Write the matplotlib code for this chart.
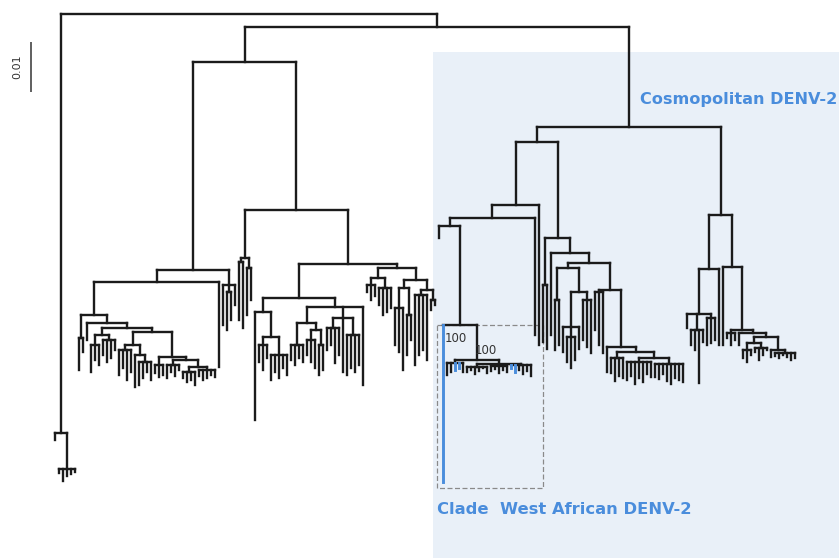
import matplotlib
matplotlib.use("Agg")
import matplotlib.pyplot as plt
from matplotlib.collections import LineCollection
from matplotlib.patches import Rectangle

# ---------------------------------------------------------------------------
# Tree data (Newick, branch lengths in substitutions/site).
# "&NAME" is a placeholder that is replaced by the clade of that name;
# tips named "b" belong to the highlighted West African lineage.
# ---------------------------------------------------------------------------
BACKBONE = "(&OUT:0.0838,&A:0.0026)"
OUT = "(:0.0014,(:0.0008,:0.0024,:0.0014,:0.0010,:0.0006):0.0072)"
A = "(&L:0.0070,&C:0.0200)"

# Asian / American genotypes
L = "(&L1:0.0416,&L2:0.0296)"
L1 = "(&L1A:0.0024,&L1B:0.0030)"
L1A = "(&L1A1:0.0066,:0.0170)"
L1A1 = "((:0.0064,:0.0028):0.0046,(:0.0034,&S:0.0010):0.0016)"
S = "(&S1:0.0014,&S2:0.0008)"
S1 = "((:0.0054,:0.0030,:0.0040):0.0020,(:0.0030,:0.0044,:0.0036,:0.0020):0.0010)"
S2 = "(&S2A:0.0026,&S2B:0.0050)"
S2A = ("((:0.0050,:0.0036,:0.0060,:0.0044):0.0010,"
       "(:0.0064,(:0.0046,:0.0032,:0.0020,:0.0036):0.0014):0.0020)")
S2B = "((:0.0016,:0.0024,:0.0020):0.0016,&S2B2:0.0006)"
S2B2 = ("((:0.0026,:0.0014,:0.0022,:0.0010):0.0010,"
        "((:0.0012,:0.0020,:0.0016,:0.0026):0.0010,"
        "(:0.0012,:0.0020,:0.0016,:0.0010,:0.0014):0.0006):0.0014)")
L1B = "(:0.0080,(:0.0076,:0.0056):0.0014,:0.0040)"
L2 = "(&L2A:0.0096,&L2B:0.0108)"
L2A = "((:0.0116,:0.0132):0.0008,(:0.0094,:0.0064):0.0020)"
L2B = "(&L2B1:0.0068,&L2B2:0.0008)"
L2B1 = "(&L2B1A:0.0028,&L2B1B:0.0018)"
L2B1A = ("(:0.0216,((:0.0034,:0.0050,:0.0026):0.0016,"
         "(:0.0050,:0.0034,:0.0046,:0.0026,:0.0040):0.0036):0.0050)")
L2B1B = "(&V1:0.0032,&V2:0.0022,:0.0156)"
V1 = ("((:0.0030,:0.0040,:0.0026,:0.0034):0.0044,"
      "((:0.0030,:0.0044,:0.0056):0.0020,(:0.0060,:0.0050):0.0030):0.0014)")
V2 = ("((:0.0044,:0.0034,:0.0070,:0.0054):0.0020,:0.0108,"
      "(:0.0080,:0.0066,:0.0074,:0.0060):0.0034)")
L2B2 = "(&W:0.0020,&X:0.0024)"
W = "((:0.0014,:0.0030,:0.0022):0.0014,(:0.0034,:0.0054,:0.0048,:0.0040):0.0020)"
X = "(&X1:0.0016,&X2:0.0020)"
X1 = "((:0.0074,:0.0088,:0.0124):0.0040,(:0.0080,:0.0050):0.0054)"
X2 = "((:0.0140,:0.0120,:0.0110,:0.0130):0.0010,(:0.0020,:0.0010):0.0020)"

# Cosmopolitan genotype with the West African clade nested inside
C = "(&C1:0.0030,&C2:0.0176)"
C1 = "(&C1A:0.0126,&C1B:0.0192)"
C1A = "(((:0.0024,&WA:0.0198):0.0016,:0.0234):0.0026,:0.0280)"
WA = "(b:0.0314,&WAK:0.0070)100"
WAK = ("((:0.0024,:0.0018,b:0.0014,b:0.0010,:0.0018):0.0006,"
       "((:0.0010,:0.0006,:0.0014,:0.0008,:0.0002,:0.0012):0.0006,"
       "(:0.0010,:0.0006,:0.0014,:0.0008,:0.0012):0.0004,"
       "(b:0.0006,b:0.0014,:0.0010,:0.0018,:0.0012,:0.0022):0.0002):0.0008)100")
C1B = "((:0.0114,:0.0128):0.0094,&C1B2:0.0030)"
C1B2 = "(:0.0164,&N:0.0020)"
N = "(&N1:0.0010,&N2:0.0054)"
N1 = "((:0.0100,:0.0090):0.0064,&N1B:0.0048)"
N1B = ("((:0.0050,(:0.0050,:0.0062,:0.0046):0.0020,:0.0044):0.0070,"
       "(:0.0080,:0.0094,:0.0106):0.0016)")
N2 = "((:0.0076,:0.0106,:0.0122):0.0004,&N2B:0.0114)"
N2B = ("(:0.0050,((:0.0030,:0.0046,:0.0036,:0.0040):0.0012,"
       "((:0.0036,:0.0028,:0.0044,:0.0032,:0.0040,:0.0024,:0.0030):0.0008,"
       "(:0.0026,:0.0030,:0.0020,:0.0034,:0.0040,:0.0028,:0.0032,:0.0036):0.0012)"
       ":0.0012):0.0010)")
C2 = "(&C2A:0.0108,&C2B:0.0104)"
C2A = "(&C2A1:0.0090,:0.0152)"
C2A1 = "(:0.0028,(:0.0030,:0.0040,:0.0106,:0.0024):0.0032,(:0.0054,:0.0050,:0.0044):0.0008)"
C2B = "(:0.0156,&C2B2:0.0126)"
C2B2 = "((:0.0010,:0.0024,:0.0014):0.0006,(:0.0024,&C2B2C:0.0008):0.0006)"
C2B2C = ("(((:0.0016,:0.0024,:0.0010):0.0014,(:0.0008,:0.0024,:0.0014,:0.0004):0.0010):0.0012,"
         "(:0.0014,(:0.0006,:0.0010,:0.0004,:0.0008,:0.0014,:0.0010):0.0006):0.0026)")

CLADES = {
    "OUT": OUT, "A": A, "L": L, "L1": L1, "L1A": L1A, "L1A1": L1A1, "S": S,
    "S1": S1, "S2": S2, "S2A": S2A, "S2B": S2B, "S2B2": S2B2, "L1B": L1B,
    "L2": L2, "L2A": L2A, "L2B": L2B, "L2B1": L2B1, "L2B1A": L2B1A,
    "L2B1B": L2B1B, "V1": V1, "V2": V2, "L2B2": L2B2, "W": W, "X": X,
    "X1": X1, "X2": X2, "C": C, "C1": C1, "C1A": C1A, "WA": WA, "WAK": WAK,
    "C1B": C1B, "C1B2": C1B2, "N": N, "N1": N1, "N1B": N1B, "N2": N2,
    "N2B": N2B, "C2": C2, "C2A": C2A, "C2A1": C2A1, "C2B": C2B,
    "C2B2": C2B2, "C2B2C": C2B2C,
}

SCALE_LEN = 0.01
CLADE_LABELS = ["Cosmopolitan DENV-2", "Clade  West African DENV-2"]

BLUE = "#4a8ddc"
INK = "#1b1b1b"


class Node:
    def __init__(self):
        self.children = []
        self.name = ""
        self.label = ""
        self.length = 0.0
        self.x = 0.0
        self.y = 0.0


def parse(text):
    s = "".join(text.split())
    pos = 0

    def read():
        nonlocal pos
        n = Node()
        if s[pos] == "(":
            pos += 1
            while True:
                n.children.append(read())
                if s[pos] == ",":
                    pos += 1
                    continue
                if s[pos] == ")":
                    pos += 1
                    break
        start = pos
        while pos < len(s) and s[pos] not in ",():;":
            pos += 1
        tok = s[start:pos]
        if n.children:
            n.label = tok
        else:
            n.name = tok
        if pos < len(s) and s[pos] == ":":
            pos += 1
            start = pos
            while pos < len(s) and s[pos] not in ",();":
                pos += 1
            n.length = float(s[start:pos])
        return n

    return read()


def expand(node):
    for k, ch in enumerate(node.children):
        if not ch.children and ch.name.startswith("&"):
            key = ch.name[1:]
            sub = parse(CLADES[key])
            sub.length = ch.length
            sub.name = key
            node.children[k] = sub
            ch = sub
        expand(ch)
    return node


root = expand(parse(BACKBONE))

# layout: tips in order, internal nodes centred on first/last child
tips = []


def layout(n, depth):
    n.y = depth
    for c in n.children:
        layout(c, depth + c.length)
    if n.children:
        n.x = 0.5 * (n.children[0].x + n.children[-1].x)
    else:
        n.x = float(len(tips))
        tips.append(n)


layout(root, 0.0)

segs, cols, widths = [], [], []
nodes = {}


def collect(n):
    if n.name:
        nodes[n.name] = n
    if not n.children:
        return
    segs.append([(n.children[0].x, n.y), (n.children[-1].x, n.y)])
    cols.append(INK)
    widths.append(1.7)
    for c in n.children:
        segs.append([(c.x, n.y), (c.x, c.y)])
        blue = c.name == "b"
        cols.append(BLUE if blue else INK)
        widths.append(2.1 if blue else 1.7)
        collect(c)


collect(root)

# ---------------------------------------------------------------------------
fig = plt.figure(figsize=(8.39, 5.58), dpi=100)
ax = fig.add_axes([0, 0, 1, 1])
PX_X = 4.0        # pixels per tip
PX_Y = 5000.0     # pixels per substitution/site
ax.set_xlim(-55 / PX_X, (839 - 55) / PX_X)
ax.set_ylim((558 - 14) / PX_Y, -14 / PX_Y)
ax.axis("off")

# shaded panel for the cosmopolitan genotype
ax.add_patch(Rectangle((0.516, 0.0), 0.484, 1 - 52 / 558, transform=ax.transAxes,
                       facecolor="#e9f0f8", edgecolor="none", zorder=0))

lc = LineCollection(segs, colors=cols, linewidths=widths, capstyle="projecting",
                    joinstyle="miter", zorder=3)
ax.add_collection(lc)

# dashed frame around the West African clade
wa = nodes["WA"]
wa_tips = []


def gather(n):
    if not n.children:
        wa_tips.append(n)
    for c in n.children:
        gather(c)


gather(wa)
x0 = min(t.x for t in wa_tips) - 1.5
x1 = max(t.x for t in wa_tips) + 3.0
y1 = max(t.y for t in wa_tips) + 6 / PX_Y
ax.add_patch(Rectangle((x0, wa.y), x1 - x0, y1 - wa.y, facecolor="none",
                       edgecolor="#8a8a8a", linestyle=(0, (4, 2)), linewidth=0.9,
                       zorder=2))

# bootstrap support
ax.annotate(wa.label, (wa.x, wa.y), xytext=(-4, -13), textcoords="offset pixels",
            ha="center", va="center", fontsize=8.5, color="#333333", zorder=4)
wak = nodes["WAK"]
ax.annotate(wak.label, (wak.x, wak.y), xytext=(9, 10), textcoords="offset pixels",
            ha="center", va="center", fontsize=8.5, color="#333333", zorder=4)

# scale bar
sx = (31 - 55) / PX_X
sy0 = (42 - 14) / PX_Y
ax.plot([sx, sx], [sy0, sy0 + SCALE_LEN], color="#444444", lw=1.2,
        solid_capstyle="butt")
ax.text((17 - 55) / PX_X, sy0 + SCALE_LEN / 2, f"{SCALE_LEN:.2f}", rotation=90,
        ha="center", va="center", fontsize=8, color="#333333")

# clade labels
ax.text(640 / 839, 1 - 99 / 558, CLADE_LABELS[0], transform=ax.transAxes,
        ha="left", va="center", fontsize=11.6, fontweight="bold", color=BLUE)
ax.text(437 / 839, 1 - 509 / 558, CLADE_LABELS[1], transform=ax.transAxes,
        ha="left", va="center", fontsize=11.8, fontweight="bold", color=BLUE)

fig.savefig("out.png", dpi=100, facecolor="white")
